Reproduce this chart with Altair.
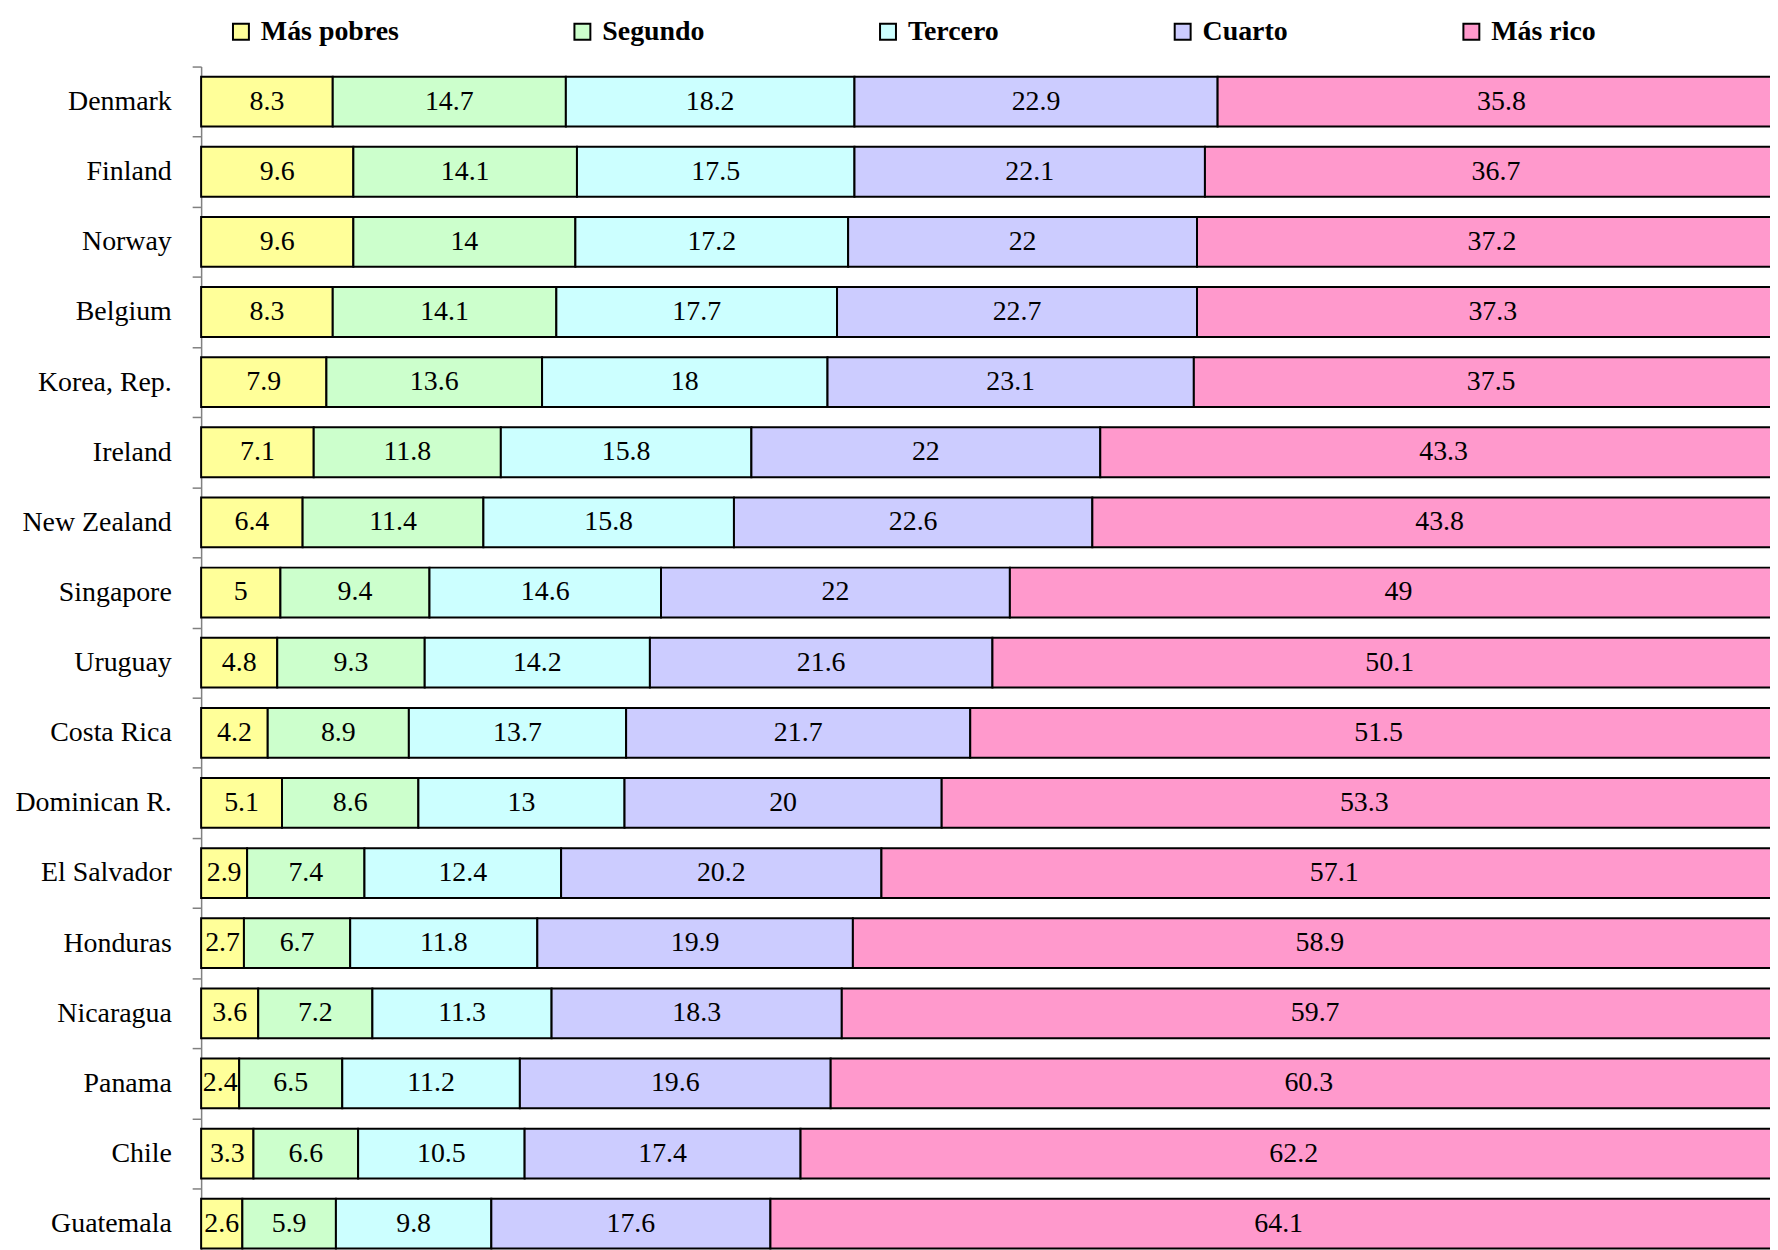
import altair as alt
import pandas as pd

countries = ["Denmark", "Finland", "Norway", "Belgium", "Korea, Rep.", "Ireland",
             "New Zealand", "Singapore", "Uruguay", "Costa Rica", "Dominican R.",
             "El Salvador", "Honduras", "Nicaragua", "Panama", "Chile", "Guatemala"]
quintiles = ["Más pobres", "Segundo", "Tercero", "Cuarto", "Más rico"]
colors = ["#FFFF99", "#CCFFCC", "#CCFFFF", "#CCCCFF", "#FF99CC"]

q1 = [8.3, 9.6, 9.6, 8.3, 7.9, 7.1, 6.4, 5, 4.8, 4.2, 5.1, 2.9, 2.7, 3.6, 2.4, 3.3, 2.6]
q2 = [14.7, 14.1, 14, 14.1, 13.6, 11.8, 11.4, 9.4, 9.3, 8.9, 8.6, 7.4, 6.7, 7.2, 6.5, 6.6, 5.9]
q3 = [18.2, 17.5, 17.2, 17.7, 18, 15.8, 15.8, 14.6, 14.2, 13.7, 13, 12.4, 11.8, 11.3, 11.2, 10.5, 9.8]
q4 = [22.9, 22.1, 22, 22.7, 23.1, 22, 22.6, 22, 21.6, 21.7, 20, 20.2, 19.9, 18.3, 19.6, 17.4, 17.6]
q5 = [35.8, 36.7, 37.2, 37.3, 37.5, 43.3, 43.8, 49, 50.1, 51.5, 53.3, 57.1, 58.9, 59.7, 60.3, 62.2, 64.1]

rows = []
for qi, (qname, series) in enumerate(zip(quintiles, [q1, q2, q3, q4, q5])):
    for c, v in zip(countries, series):
        rows.append({"country": c, "quintile": qname, "order": qi, "value": v, "label": str(v)})
df = pd.DataFrame(rows)

FONT = "Liberation Serif"

base = alt.Chart(df).transform_stack(
    stack="value", groupby=["country"], as_=["x0", "x1"],
    sort=[alt.SortField("order", order="ascending")]
).transform_calculate(mid="(datum.x0 + datum.x1) / 2")

xscale = alt.Scale(domain=[0, 100], range=[0, 1593], nice=False)

yenc = alt.Y("country:N", sort=countries, title=None,
             scale=alt.Scale(range=[0, 1197.6], paddingInner=0, paddingOuter=0),
             axis=alt.Axis(labelFont=FONT, labelFontSize=28, labelColor="black",
                           labelPadding=21, tickSize=9, tickColor="#808080",
                           domainColor="#808080", domainWidth=1.5, tickWidth=1.5,
                           tickBand="extent", grid=False))

bars = base.mark_bar(stroke="black", strokeWidth=2, height={"band": 0.71}).encode(
    x=alt.X("x0:Q", scale=xscale, axis=None),
    x2="x1:Q",
    y=yenc,
    color=alt.Color("quintile:N", sort=quintiles,
                    scale=alt.Scale(domain=quintiles, range=colors),
                    legend=alt.Legend(orient="none", legendX=26, legendY=-49,
                                      direction="horizontal", title=None,
                                      symbolType="square", symbolSize=256,
                                      symbolStrokeColor="black", symbolStrokeWidth=2,
                                      symbolOpacity=1,
                                      labelFont=FONT, labelFontSize=28,
                                      labelFontWeight="bold", labelColor="black",
                                      labelOffset=6, columnPadding=170, padding=0)),
)

texts = base.mark_text(font=FONT, fontSize=28, color="black", baseline="middle").encode(
    x=alt.X("mid:Q", scale=xscale, axis=None),
    y=alt.Y("country:N", sort=countries),
    text="label:N",
)

chart = alt.layer(bars, texts).properties(
    width=1576, height=1186,
    autosize=alt.AutoSizeParams(type="none"),
    padding={"left": 194, "top": 56, "right": 0, "bottom": 0},
).configure(background="white").configure_view(stroke=None)

chart.save("out.html", embed_options={"renderer": "svg", "actions": False})
